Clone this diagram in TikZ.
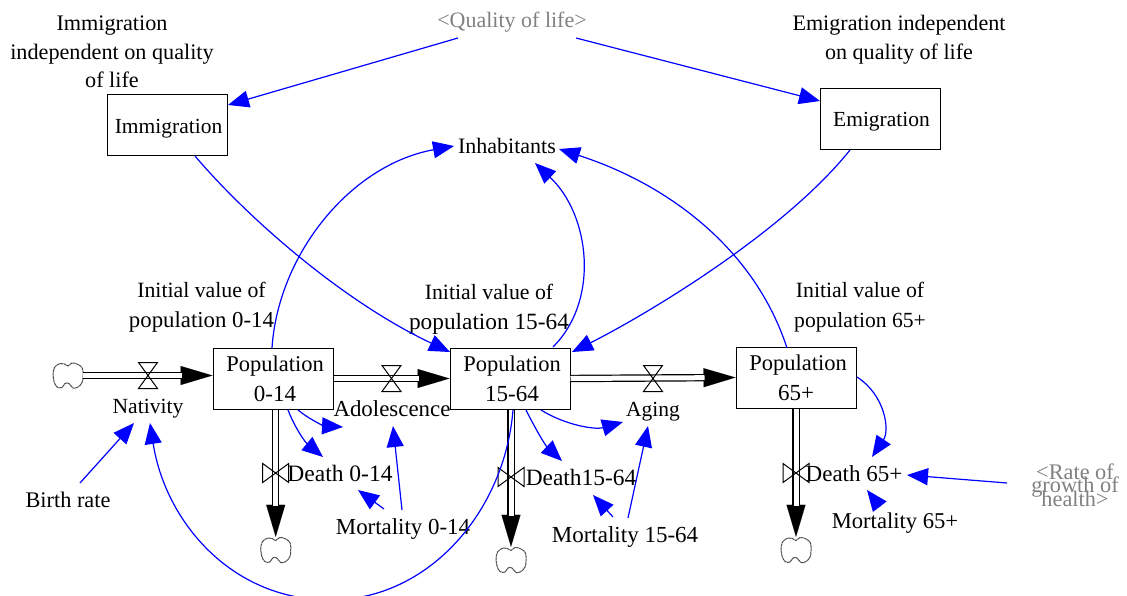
\documentclass[tikz,border=0pt]{standalone}
\usepackage{fontspec}
\setmainfont{Liberation Serif}
\usetikzlibrary{arrows.meta}
\newcommand\fsz[1]{\fontsize{#1}{30}\selectfont}
\newcommand\fsy[1]{\fontsize{#1}{28.7}\selectfont}
\newcommand\fst{\fontsize{22.3}{13.5}\selectfont\lineskiplimit=-100pt\relax}
\tikzset{
  x=1pt,y=-1pt,
  txt/.style={inner sep=0pt,align=center,font=\fontsize{22}{30}\selectfont},
  one/.style={txt,text height=16pt,text depth=0pt},
  ghost/.style={one,text=black!50},
  stock/.style={txt,draw=black,line width=1pt,minimum width=120pt,minimum height=61pt},
  conn/.style={draw=blue,line width=1.2pt,-{Triangle[length=21pt,width=17pt,fill=blue]}},
  pipe/.style={draw=black,line width=.1pt,-{Triangle[length=32pt,width=19pt,fill=black]},
    postaction={draw=black,line width=7.4pt,-,shorten >=31pt},
    postaction={draw=white,line width=5pt,-,shorten >=31pt}},
  sink/.style={inner sep=0pt,minimum width=30pt,minimum height=26pt},
  pics/blob/.style={code={\draw[black!70,line width=1pt,dash pattern=on 3pt off .5pt]
    plot[smooth cycle,tension=.65] coordinates {(-15,0) (-13.5,-8) (-8,-12) (-3.5,-11.5) (0,-9.5) (4,-12.5) (10,-11) (14.5,-7) (15,1) (14,7) (10,11.5) (5,12.5) (1,8) (-3,8) (-6,12) (-11,11.5) (-14,6)};}},
  pics/valveh/.style={code={\draw[black,line width=1pt,fill=none] (-9.5,-13)--(9.5,-13)--(-9.5,13)--(9.5,13)--cycle;}},
  pics/valvev/.style={code={\draw[black,line width=1pt,fill=none] (-13,-9.5)--(-13,9.5)--(13,-9.5)--(13,9.5)--cycle;}},
}
\begin{document}
\begin{tikzpicture}
\path[use as bounding box] (0,0) rectangle (1127,596);
% stocks
\node[stock,text height=16pt,text depth=0pt] (imm) at (167,125.5) {\hspace*{3pt}\fsz{21.5}Immigration};
\node[stock,text height=16pt,text depth=0pt] (emi) at (880,119) {\hspace*{3pt}\fsz{21.5}Emigration};
\node[stock] (pop0) at (273,378.5) {\hspace*{4pt}\fsz{22.5}Population\\\hspace*{4pt}\fsz{23}0-14};
\node[stock] (pop1) at (510,378.5) {\hspace*{4pt}\fsz{22.5}Population\\\hspace*{4pt}\fsz{23}15-64};
\node[stock] (pop2) at (796,378) {\hspace*{4pt}\fsz{22.5}Population\\\fsz{23}65+};
% texts
\node[ghost] (qol) at (512,20) {<Quality of life>};
\node[txt,font=\fsy{22.2}] (immi) at (112,52) {Immigration\\independent on quality\\of life};
\node[txt,font=\fsy{22.1}] (emii) at (899,40) {Emigration independent\\on quality of life};
\node[one] (inh) at (507,146) {Inhabitants};
\node[txt] (iv0) at (201.5,307.5) {\fsz{21.8}Initial value of\\\fsz{22.8}population 0-14};
\node[txt] (iv1) at (489,309.5) {\fsz{21.8}Initial value of\\\fsz{23.3}population 15-64};
\node[txt] (iv2) at (860,307.5) {\fsz{21.8}Initial value of\\\fsz{21.6}population 65+};
\node[one,font=\fsz{21.6}] (nat) at (148,405) {Nativity};
\node[one,font=\fsz{22.9}] (ado) at (392,408) {Adolescence};
\node[one,font=\fsz{21.5}] (agi) at (653,408) {Aging};
\node[one,font=\fsz{23.5}] (d0) at (340,473) {Death 0-14};
\node[one,font=\fsz{23.4}] (d1) at (581,477) {Death15-64};
\node[one,font=\fsz{23}] (d2) at (854,473) {Death 65+};
\node[one,font=\fsz{22.3}] (br) at (68,499) {Birth rate};
\node[one,font=\fsz{22.9}] (m0) at (403,526) {Mortality 0-14};
\node[one,font=\fsz{23}] (m1) at (625,534) {Mortality 15-64};
\node[one,font=\fsz{22.6}] (m2) at (895,520) {Mortality 65+};
\node[txt,text=black!50,font=\fst] (rate) at (1075,485) {<Rate of\\growth of\\health>};
% clouds
\node[sink] (src) at (68,375.5) {};
\node[sink] (s0) at (275.7,550) {};
\node[sink] (s1) at (511,560) {};
\node[sink] (s2) at (796,550) {};
\pic at (src) {blob};
\pic at (s0) {blob};
\pic at (s1) {blob};
\pic at (s2) {blob};
% flows
\draw[pipe] (src.east) -- ([yshift=3pt]pop0.west);
\draw[pipe] (pop0.east) -- (pop1.west);
\draw[pipe] (pop1.east) -- ([yshift=.5pt]pop2.west);
\draw[pipe] ([xshift=2.7pt]pop0.south) -- (s0.north);
\draw[pipe] ([xshift=1pt]pop1.south) -- (s1.north);
\draw[pipe] (pop2.south) -- (s2.north);
% valves
\coordinate (vn) at (148,375.5);
\coordinate (va) at (391.5,378.5);
\coordinate (vg) at (653,378.5);
\coordinate (v0) at (275.7,473);
\coordinate (v1) at (511,477);
\coordinate (v2) at (796,473);
\pic at (vn) {valveh};
\pic at (va) {valveh};
\pic at (vg) {valveh};
\pic at (v0) {valvev};
\pic at (v1) {valvev};
\pic at (v2) {valvev};
% blue links
\draw[conn] ([shift={(-54,18)}]qol.center) -- ([shift={(61,-20.5)}]imm.center);
\draw[conn] ([shift={(64,18)}]qol.center) -- ([shift={(-60,-18)}]emi.center);
\draw[conn] ([shift={(28,30.5)}]imm.center) .. controls (245,215) and (340,300) .. ([shift={(-60,-26.5)}]pop1.center);
\draw[conn] ([shift={(-30,31)}]emi.center) .. controls (782,235) and (640,318) .. ([shift={(62,-26.5)}]pop1.center);
\draw[conn] ([shift={(-1,-30.5)}]pop0.center) .. controls (278,255) and (350,165) .. ([shift={(-53,0)}]inh.center);
\draw[conn] ([shift={(43,-31.5)}]pop1.center) .. controls (600,300) and (590,215) .. ([shift={(28,17)}]inh.center);
\draw[conn] ([shift={(-9,-30)}]pop2.center) .. controls (755,250) and (670,185) .. ([shift={(52,3)}]inh.center);
\draw[conn] ([shift={(25,31.5)}]pop0.center) .. controls (310,420) and (325,426) .. ([shift={(-49,19)}]ado.center);
\draw[conn] ([shift={(15,31.5)}]pop0.center) .. controls (295,428) and (305,442) .. ([shift={(-17,-16)}]d0.center);
\draw[conn] ([shift={(12,-16)}]br.center) -- ([shift={(-14,18)}]nat.center);
\draw[conn] ([shift={(3,31.5)}]pop1.center) .. controls (505,510) and (430,600) .. (330,600) .. controls (230,600) and (165,520) .. ([shift={(2,18)}]nat.center);
\draw[conn] ([shift={(-19,-17)}]m0.center) -- ([shift={(18,17)}]d0.center);
\draw[conn] ([shift={(-1,-16)}]m0.center) -- ([shift={(1,18)}]ado.center);
\draw[conn] ([shift={(16,31.5)}]pop1.center) .. controls (535,428) and (545,445) .. ([shift={(-19,-16)}]d1.center);
\draw[conn] ([shift={(31,31.5)}]pop1.center) .. controls (565,425) and (595,430) .. ([shift={(-30,14)}]agi.center);
\draw[conn] ([shift={(-12,-17)}]m1.center) -- ([shift={(12,18)}]d1.center);
\draw[conn] ([shift={(3,-16)}]m1.center) -- ([shift={(-5,18)}]agi.center);
\draw[conn] ([shift={(61,-1)}]pop2.center) .. controls (885,395) and (890,430) .. ([shift={(18,-16)}]d2.center);
\draw[conn] ([shift={(-68,-2)}]rate.center) -- ([shift={(53,2)}]d2.center);
\draw[conn] ([shift={(-15,-13)}]m2.center) -- ([shift={(13,17)}]d2.center);
\end{tikzpicture}
\end{document}
